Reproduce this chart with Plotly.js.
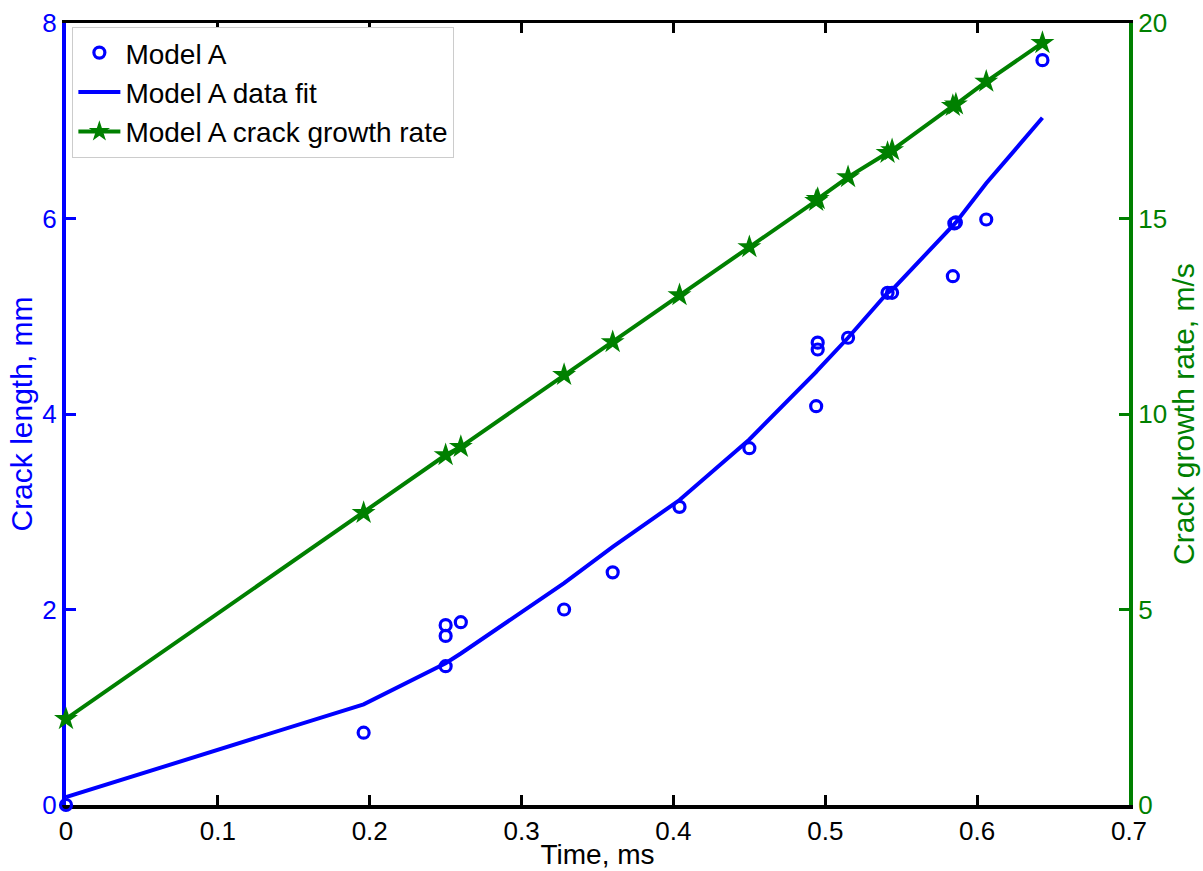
<!DOCTYPE html>
<html>
<head>
<meta charset="utf-8">
<script src="https://cdn.plot.ly/plotly-3.0.1.min.js"></script>
<style>html,body{margin:0;padding:0;background:#fff;}#chart{width:1203px;height:871px;}</style>
</head>
<body>
<div id="chart"></div>
<script>
// Measured data (Model A)
const timeData = [0, 0.196, 0.250, 0.250, 0.250, 0.260, 0.328, 0.360, 0.404, 0.450, 0.494, 0.495, 0.495, 0.515, 0.541, 0.544, 0.584, 0.585, 0.586, 0.606, 0.643];
const crackLength = [0, 0.74, 1.84, 1.73, 1.42, 1.87, 2.00, 2.38, 3.05, 3.65, 4.08, 4.73, 4.66, 4.78, 5.24, 5.24, 5.41, 5.95, 5.96, 5.99, 7.62];

// Data fit
const fitTime = [0, 0.196, 0.250, 0.260, 0.328, 0.360, 0.404, 0.450, 0.494, 0.495, 0.515, 0.541, 0.544, 0.584, 0.586, 0.606, 0.643];
const fitLength = [0.08, 1.03, 1.45, 1.55, 2.27, 2.64, 3.12, 3.74, 4.43, 4.45, 4.78, 5.24, 5.27, 5.93, 5.96, 6.36, 7.03];

// Crack growth rate
const rateTime = [0, 0.196, 0.250, 0.260, 0.328, 0.360, 0.404, 0.450, 0.494, 0.495, 0.515, 0.541, 0.544, 0.584, 0.586, 0.606, 0.643];
const growthRate = [2.2, 7.47, 8.95, 9.16, 11.0, 11.84, 13.04, 14.27, 15.45, 15.5, 16.06, 16.68, 16.75, 17.88, 17.92, 18.5, 19.49];

const xTicks = [0, 0.1, 0.2, 0.3, 0.4, 0.5, 0.6, 0.7];
const xTickText = ['0', '0.1', '0.2', '0.3', '0.4', '0.5', '0.6', '0.7'];

const FONT = 'Liberation Sans, Arial, sans-serif';
const BLUE = '#0000ff';
const GREEN = '#008000';

const traces = [
  {
    x: timeData, y: crackLength, type: 'scatter', mode: 'markers', name: 'Model A',
    marker: {symbol: 'circle-open', size: 11, color: BLUE, line: {color: BLUE, width: 3.2}},
    cliponaxis: false, xaxis: 'x', yaxis: 'y'
  },
  {
    x: fitTime, y: fitLength, type: 'scatter', mode: 'lines', name: 'Model A data fit',
    line: {color: BLUE, width: 4}, cliponaxis: false, xaxis: 'x', yaxis: 'y'
  },
  {
    x: rateTime, y: growthRate, type: 'scatter', mode: 'lines+markers', name: 'Model A crack growth rate',
    line: {color: GREEN, width: 4},
    marker: {symbol: 'star', size: 18, color: GREEN, line: {width: 0}},
    cliponaxis: false, xaxis: 'x', yaxis: 'y2'
  }
];

const layout = {
  width: 1203, height: 871,
  margin: {l: 66, r: 74, t: 23, b: 66},
  paper_bgcolor: '#fff', plot_bgcolor: '#fff',
  font: {family: FONT, size: 26, color: '#000'},
  showlegend: true,
  legend: {
    x: 0.006, y: 0.995, xanchor: 'left', yanchor: 'top',
    bgcolor: '#fff', bordercolor: '#cccccc', borderwidth: 1,
    font: {family: FONT, size: 28, color: '#000'},
    itemwidth: 42, tracegroupgap: 0
  },
  xaxis: {
    range: [0, 0.7], tickvals: xTicks, ticktext: xTickText,
    showgrid: false, zeroline: false,
    showline: true, linecolor: '#000', linewidth: 3.5, mirror: 'ticks',
    ticks: 'inside', ticklen: 10, tickwidth: 3, tickcolor: '#000',
    tickfont: {family: FONT, size: 26, color: '#000'},
    title: {text: 'Time, ms', font: {family: FONT, size: 28, color: '#000'}, standoff: 0},
    layer: 'below traces'
  },
  yaxis: {
    range: [0, 8], dtick: 2, tick0: 0,
    showgrid: false, zeroline: false,
    showline: true, linecolor: BLUE, linewidth: 4,
    ticks: 'inside', ticklen: 10, tickwidth: 3, tickcolor: BLUE,
    tickfont: {family: FONT, size: 26, color: BLUE},
    title: {text: 'Crack length, mm', font: {family: FONT, size: 30, color: BLUE}, standoff: 2},
    layer: 'below traces'
  },
  yaxis2: {
    range: [0, 20], dtick: 5, tick0: 0, overlaying: 'y', side: 'right',
    showgrid: false, zeroline: false,
    showline: true, linecolor: GREEN, linewidth: 4,
    ticks: 'inside', ticklen: 10, tickwidth: 3, tickcolor: GREEN,
    tickfont: {family: FONT, size: 26, color: GREEN},
    title: {text: 'Crack growth rate, m/s', font: {family: FONT, size: 30, color: GREEN}, standoff: 8},
    layer: 'below traces'
  }
};

Plotly.newPlot('chart', traces, layout, {displayModeBar: false, staticPlot: true});
</script>
</body>
</html>
